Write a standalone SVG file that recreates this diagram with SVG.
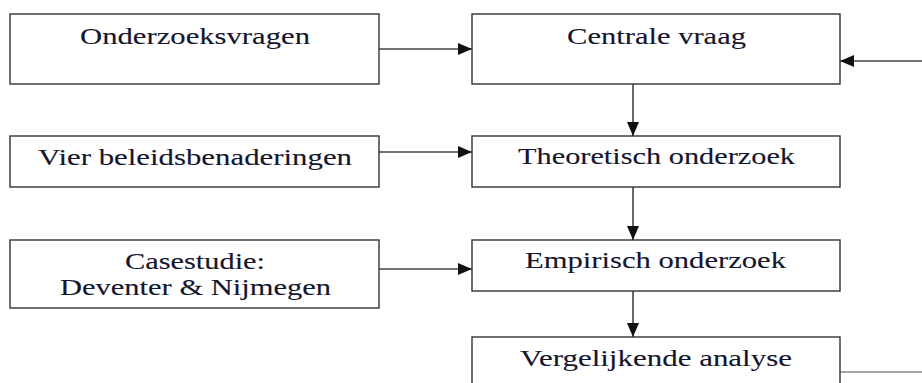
<svg xmlns="http://www.w3.org/2000/svg" width="922" height="383" viewBox="0 0 922 383">
<style>
.box{fill:#fff;stroke:#333;stroke-width:1.4}
.t{font-family:"Liberation Serif","Times New Roman",serif;font-size:24px;fill:#15152e;stroke:#15152e;stroke-width:0.12;text-anchor:middle}
.c{fill:none;stroke:#444;stroke-width:1.6}
</style>
<defs>
<marker id="ah" markerUnits="userSpaceOnUse" markerWidth="15" markerHeight="13" refX="14" refY="6" orient="auto">
<path d="M0,0 L14,6 L0,12 z" fill="#111"/>
</marker>
</defs>
<rect width="922" height="383" fill="#fff"/>
<g id="connectors">
<line class="c" x1="379" y1="49" x2="472" y2="49" marker-end="url(#ah)"/>
<line class="c" x1="379" y1="152" x2="472" y2="152" marker-end="url(#ah)"/>
<line class="c" x1="379" y1="269" x2="472" y2="269" marker-end="url(#ah)"/>
<line class="c" x1="633" y1="84" x2="633" y2="136" marker-end="url(#ah)"/>
<line class="c" x1="633" y1="187" x2="633" y2="240" marker-end="url(#ah)"/>
<line class="c" x1="633" y1="291" x2="633" y2="337" marker-end="url(#ah)"/>
<line class="c" x1="922" y1="61" x2="840" y2="61" marker-end="url(#ah)"/>
<line x1="840" y1="372" x2="922" y2="372" stroke="#888" stroke-width="1.5"/>
</g>
<g id="onderzoeksvragen">
<rect class="box" x="10" y="14" width="369" height="70"/>
<text class="t" x="195" y="44" textLength="230" lengthAdjust="spacingAndGlyphs">Onderzoeksvragen</text>
</g>
<g id="vier">
<rect class="box" x="10" y="136" width="369" height="51"/>
<text class="t" x="195" y="165" textLength="314" lengthAdjust="spacingAndGlyphs">Vier beleidsbenaderingen</text>
</g>
<g id="casestudie">
<rect class="box" x="10" y="240" width="369" height="68"/>
<text class="t" x="195" y="269" textLength="140" lengthAdjust="spacingAndGlyphs">Casestudie:</text>
<text class="t" x="195.5" y="295" textLength="271" lengthAdjust="spacingAndGlyphs">Deventer &amp; Nijmegen</text>
</g>
<g id="centrale">
<rect class="box" x="472" y="14" width="368" height="70"/>
<text class="t" x="656.5" y="44" textLength="179" lengthAdjust="spacingAndGlyphs">Centrale vraag</text>
</g>
<g id="theoretisch">
<rect class="box" x="472" y="136" width="368" height="51"/>
<text class="t" x="656.5" y="164" textLength="277" lengthAdjust="spacingAndGlyphs">Theoretisch onderzoek</text>
</g>
<g id="empirisch">
<rect class="box" x="472" y="240" width="368" height="51"/>
<text class="t" x="655.5" y="268" textLength="261" lengthAdjust="spacingAndGlyphs">Empirisch onderzoek</text>
</g>
<g id="vergelijkende">
<rect class="box" x="472" y="337" width="368" height="60"/>
<text class="t" x="656" y="366" textLength="272" lengthAdjust="spacingAndGlyphs">Vergelijkende analyse</text>
</g>
</svg>
